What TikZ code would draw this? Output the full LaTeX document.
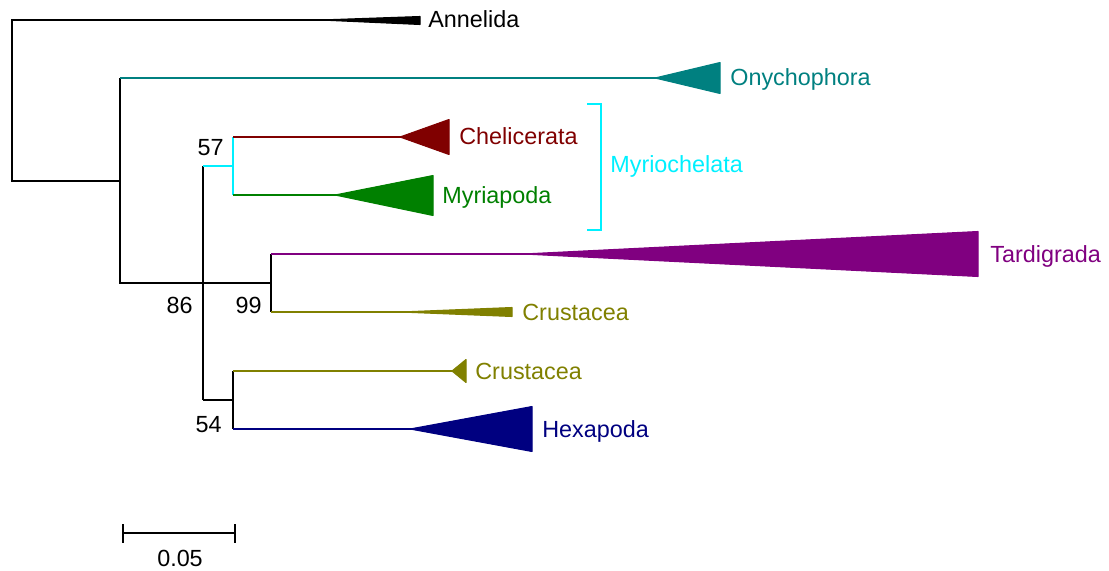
\documentclass[tikz,border=0pt]{standalone}
\usepackage{fontspec}
\setmainfont{Liberation Sans}
\usetikzlibrary{positioning}
\definecolor{tealOny}{RGB}{0, 128, 128}
\definecolor{rougeChel}{RGB}{128, 0, 0}
\definecolor{vertMyr}{RGB}{0, 128, 0}
\definecolor{violetTard}{RGB}{128, 0, 128}
\definecolor{oliveCrus}{RGB}{128, 128, 0}
\definecolor{bleuHex}{RGB}{0, 0, 128}
\definecolor{cyanMyrio}{RGB}{0, 240, 255}

\begin{document}
\begin{tikzpicture}[x=0.02cm, y=-0.02cm,
  br/.style={line width=1.1pt},
  clade/.style={line width=0.6pt, line join=round},
  lbl/.style={font=\fontsize{13.3}{16}\selectfont, anchor=base west, inner sep=0pt},
  bs/.style={font=\fontsize{13.3}{16}\selectfont, anchor=base east, inner sep=0pt},
]
\useasboundingbox (0,0) rectangle (1109,571);
\coordinate (root)   at (12,  100);
\coordinate (arth)   at (120, 181);
\coordinate (n86)    at (203, 283);
\coordinate (n57)    at (233, 166);
\coordinate (n99)    at (271, 283);
\coordinate (n54)    at (233, 400);
\coordinate (annT)   at (320, 20);
\coordinate (onyT)   at (655, 78);
\coordinate (chelT)  at (400, 137);
\coordinate (myrT)   at (335, 195);
\coordinate (tardT)  at (523, 254);
\coordinate (crus1T) at (400, 312);
\coordinate (crus2T) at (452, 371);
\coordinate (hexT)   at (410, 429);
\draw[br] ([xshift=8pt]annT) -| (root) |- (arth);
\draw[br] (onyT -| arth) -- (arth) |- (n86);
\draw[br] (n86) -- (n99);
\draw[br, draw=tealOny] (onyT -| arth) -- ([xshift=8pt]onyT);
\draw[br] (n57 -| n86) -- (n54 -| n86);
\draw[br, draw=cyanMyrio] (n57 -| n86) -- (n57);
\draw[br] (n54 -| n86) -- (n54);
\draw[br, draw=cyanMyrio] (chelT -| n57) -- (myrT -| n57);
\draw[br, draw=rougeChel] (chelT -| n57) -- ([xshift=8pt]chelT);
\draw[br, draw=vertMyr]   (myrT -| n57)  -- ([xshift=8pt]myrT);
\draw[br] (tardT -| n99) -- (crus1T -| n99);
\draw[br, draw=violetTard] (tardT -| n99)  -- ([xshift=8pt]tardT);
\draw[br, draw=oliveCrus]  (crus1T -| n99) -- ([xshift=8pt]crus1T);
\draw[br] (crus2T -| n54) -- (hexT -| n54);
\draw[br, draw=oliveCrus] (crus2T -| n54) -- ([xshift=4pt]crus2T);
\draw[br, draw=bleuHex]   (hexT -| n54)   -- ([xshift=8pt]hexT);
\filldraw[clade] (annT) -- (420, 16.5) -- (420, 24.5) -- cycle;
\filldraw[clade, tealOny]    (onyT)   -- (720, 62.5)  -- (720, 93.5)  -- cycle;
\filldraw[clade, rougeChel]  (chelT)  -- (449, 119.5) -- (449, 154.5) -- cycle;
\filldraw[clade, vertMyr]    (myrT)   -- (433, 175.5) -- (433, 215.5) -- cycle;
\filldraw[clade, violetTard] (tardT)  -- (978, 231.5) -- (978, 276.5) -- cycle;
\filldraw[clade, oliveCrus]  (crus1T) -- (512, 307.5) -- (512, 316.5) -- cycle;
\filldraw[clade, oliveCrus]  (crus2T) -- (466, 359.5) -- (466, 382.5) -- cycle;
\filldraw[clade, bleuHex]    (hexT)   -- (532, 406.5) -- (532, 451.5) -- cycle;
\node[lbl] (annL) at (428, 28) {Annelida};
\node[lbl, text=tealOny]    (onyL)   at (730, 86)  {Onychophora};
\node[lbl, text=rougeChel]  (chelL)  at (459, 145) {Chelicerata};
\node[lbl, text=vertMyr]    (myrL)   at (442, 203) {Myriapoda};
\node[lbl, text=violetTard] (tardL)  at (990, 262) {Tardigrada};
\node[lbl, text=oliveCrus]  (crus1L) at (522, 320) {Crustacea};
\node[lbl, text=oliveCrus]  (crus2L) at (475, 379) {Crustacea};
\node[lbl, text=bleuHex]    (hexL)   at (542, 437) {Hexapoda};
\node[bs] (bs57) at (224, 155) {57};
\node[bs] (bs86) at (193, 313) {86};
\node[bs] (bs99) at (262, 313) {99};
\node[bs] (bs54) at (222, 432) {54};
\coordinate (brTop) at (587, 104);
\coordinate (brBot) at (587, 230);
\draw[br, draw=cyanMyrio] (brTop) -- ++(14,0) |- (brBot);
\node[lbl, text=cyanMyrio] (myrioL) at (610, 173) {Myriochelata};
\coordinate (sbL) at (123, 533);
\coordinate (sbR) at (235, 533);
\draw[br] (sbL) -- (sbR);
\draw[br] (sbL) ++(0,-9) -- ++(0,19);
\draw[br] (sbR) ++(0,-9) -- ++(0,19);
\node[font=\fontsize{13.3}{16}\selectfont, anchor=base, inner sep=0pt] (sbLbl) at (180, 566) {0.05};
\end{tikzpicture}
\end{document}
